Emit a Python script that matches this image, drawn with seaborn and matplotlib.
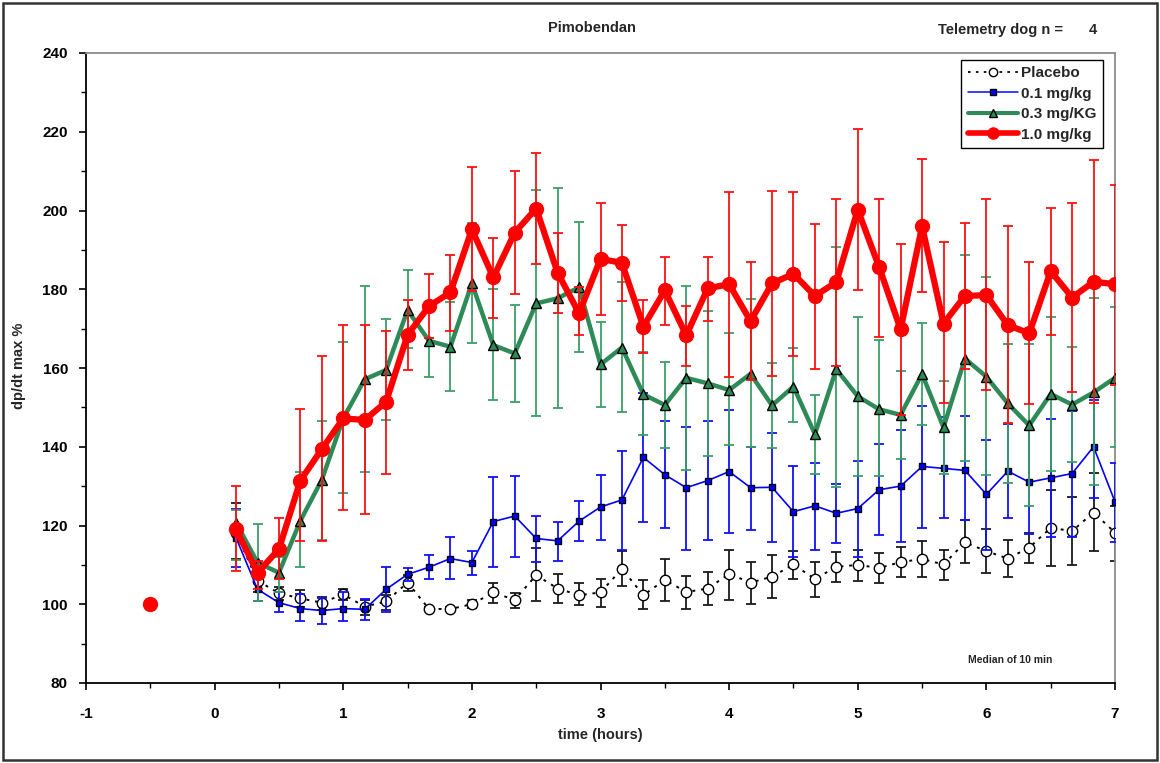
import numpy as np
import pandas as pd
import matplotlib
matplotlib.use("Agg")
import matplotlib.pyplot as plt
from matplotlib.lines import Line2D
from matplotlib.patches import Rectangle
from matplotlib.ticker import MultipleLocator
import seaborn as sns

# ---------------- data ----------------
minutes = np.arange(10, 430, 10)          # sampling every 10 min, 0:10 .. 7:00
baseline_time = -0.5
baseline_value = 100

placebo = [118, 106, 102.8, 101.5, 100.4, 102.5, 99.4, 100.7, 105.5, 98.8, 98.8, 100, 103, 101.1,
           107.4, 104, 102.3, 103, 109, 102.3, 106.2, 103.1, 104, 107.7, 105.5, 107, 110.1, 106.4,
           109.5, 110, 109.2, 110.7, 111.5, 110.1, 115.7, 113.5, 111.6, 114.4, 119.4, 118.6, 123.3, 118.2]
placebo_hi = [125.8, 110, 104.5, 103.6, 101.8, 103.8, 101.1, 102.3, 107.4, 99.4, 99.3, 101, 105.5, 102.8,
              114.2, 107.8, 105.3, 106.4, 113.4, 106.2, 111.4, 107.2, 108.1, 113.9, 110.8, 112.5, 113.6, 110.8,
              113.2, 113.9, 112.9, 114.6, 116, 113.8, 121.4, 119, 116.4, 118.2, 129, 127.3, 133.4, 125]
placebo_lo = [111.5, 103, 101, 99.4, 98.5, 101.1, 97.3, 98.5, 103.4, 98.2, 98.3, 99, 100.4, 99.1,
              100.7, 100.4, 99.7, 99.4, 104.6, 98.7, 100.8, 98.9, 99.8, 101.2, 100.1, 101.5, 106.3, 101.8,
              105.7, 105.9, 105.5, 106.8, 107, 106.2, 110.4, 108, 106.8, 110.4, 109.7, 110, 113.4, 111.1]

dose01 = [116.9, 103.8, 100.4, 98.9, 98.4, 98.9, 98.7, 103.8, 107.6, 109.4, 111.6, 110.6, 121, 122.4,
          116.7, 116.1, 121.1, 124.7, 126.5, 137.3, 132.9, 129.6, 131.4, 133.7, 129.6, 129.7, 123.5, 125,
          123.1, 124.3, 129.1, 130, 135, 134.5, 134, 127.9, 133.8, 131, 132.1, 133.2, 140, 126]
dose01_hi = [124.1, 107, 103, 102.5, 101.5, 103, 101.3, 109.5, 109.1, 112.5, 117, 113.5, 132.4, 132.6,
             122.5, 121, 126.2, 132.8, 138.9, 153.7, 146.5, 145.1, 146.5, 149.3, 140, 143.6, 135, 136,
             130.5, 136.4, 140.7, 144.3, 150.3, 147.6, 147.8, 141.7, 145.8, 144.3, 147, 149.1, 152, 136]
dose01_lo = [109.5, 100.8, 98.1, 95.8, 95.1, 95.8, 96.1, 98.1, 105.9, 106.3, 106.3, 107.4, 109.4, 112.1,
             110.8, 111.1, 116.1, 116.4, 113.9, 121, 119.4, 113.9, 116.3, 118, 118.9, 115.7, 111.9, 113.9,
             115.6, 112.1, 117.7, 115.9, 119.4, 121.8, 121.4, 113.8, 122, 117.8, 117, 117.2, 127, 115.9]

dose03 = [120.7, 110.6, 108, 121.2, 131.6, 147.2, 157.1, 159.5, 174.7, 166.9, 165.4, 181.5, 165.8, 163.7,
          176.4, 177.7, 180.5, 160.9, 165.2, 153.3, 150.6, 157.5, 156.1, 154.4, 158.5, 150.5, 155.3, 143.2,
          159.7, 152.8, 149.5, 148.1, 158.5, 144.9, 162.4, 157.8, 151, 145.4, 153.4, 150.7, 153.8, 157.5]
dose03_hi = [124, 120.4, 112, 133.5, 146.6, 166.7, 180.8, 172.4, 184.9, 167.5, 176.8, 196.9, 180, 176.1,
             205.3, 205.6, 197.1, 171.6, 181.9, 164, 161.4, 180.8, 174.6, 168.8, 177.4, 161.3, 165, 153.1,
             190.7, 173, 167.1, 159.3, 171.5, 156.8, 188.7, 183.2, 166, 166, 173, 165.4, 177.9, 175.4]
dose03_lo = [111.2, 100.8, 103, 109.5, 116.4, 128.2, 133.7, 146.8, 165, 157.8, 154.2, 166.4, 152, 151.4,
             147.9, 149.9, 164.1, 150.2, 148.9, 143, 139.8, 134.1, 137.7, 140.4, 140, 139.8, 146.2, 133.2,
             129.8, 132.5, 132.5, 136.8, 145.5, 133.2, 136.3, 132.8, 130.7, 125, 133.9, 136.2, 130.3, 140]

dose10 = [119, 108, 114, 131.4, 139.4, 147.2, 146.8, 151.4, 168.4, 175.7, 179.2, 195.2, 183, 194.4,
          200.5, 184.2, 173.9, 187.7, 186.7, 170.5, 179.7, 168.3, 180.2, 181.3, 171.9, 181.5, 183.9, 178.3,
          181.8, 200.2, 185.6, 169.8, 196, 171.3, 178.3, 178.5, 170.9, 168.8, 184.6, 177.9, 181.9, 181.3]
dose10_hi = [130, 111, 122, 149.5, 163, 171, 171, 169.5, 177.3, 183.9, 188.8, 211, 193.1, 210,
             214.5, 194.2, 180.5, 201.8, 196.3, 177.3, 188.3, 175.7, 188.3, 204.6, 187, 205, 204.8, 196.6,
             202.8, 220.8, 202.9, 191.5, 213, 191.9, 196.7, 202.8, 196, 187, 200.7, 201.8, 212.7, 206.6]
dose10_lo = [108.4, 104, 106.4, 116, 116, 124, 123, 133, 159.5, 167.7, 169.5, 179.6, 172.8, 178.9,
             186.4, 174, 168.5, 173.5, 177.1, 163.7, 170.9, 160.5, 172, 157.8, 157, 158, 163, 159.7,
             160.5, 179.8, 168, 148, 179.4, 151, 159.7, 154.4, 146, 150.8, 168.4, 153.8, 151.2, 155.7]

labels = ["Placebo", "0.1 mg/kg", "0.3 mg/KG", "1.0 mg/kg"]
x_ticks = [-1, 0, 1, 2, 3, 4, 5, 6, 7]
y_ticks = [80, 100, 120, 140, 160, 180, 200, 220, 240]

# ---------------- style ----------------
sns.set_theme(style="white")
FONT = ["Liberation Sans", "DejaVu Sans"]
plt.rcParams["font.family"] = FONT
plt.rcParams["font.weight"] = "bold"
plt.rcParams["axes.unicode_minus"] = False

t = minutes / 60.0
df = pd.DataFrame({"time": t, "Placebo": placebo, "0.1 mg/kg": dose01,
                   "0.3 mg/KG": dose03, "1.0 mg/kg": dose10})

fig = plt.figure(figsize=(11.6, 7.63), dpi=100)
ax = fig.add_axes([86 / 1160, 1 - 683 / 763, (1115 - 86) / 1160, (683 - 53) / 763])

specs = [
    dict(name="Placebo", hi=placebo_hi, lo=placebo_lo, color="black", ecolor="#1a1a1a",
         lw=1.4, ls=(0, (1.5, 3)), marker="o", ms=7.5, mfc="white", mec="black", mew=1.0),
    dict(name="0.1 mg/kg", hi=dose01_hi, lo=dose01_lo, color="#0000FF", ecolor="#1010FF",
         lw=1.2, ls="-", marker="s", ms=5, mfc="#0000FF", mec="black", mew=1.0),
    dict(name="0.3 mg/KG", hi=dose03_hi, lo=dose03_lo, color="#2E8B57", ecolor="#3C9E68",
         lw=3.2, ls="-", marker="^", ms=7.5, mfc="#2E8B57", mec="black", mew=1.0),
    dict(name="1.0 mg/kg", hi=dose10_hi, lo=dose10_lo, color="#FF0000", ecolor="#FF1010",
         lw=4.5, ls="-", marker="o", ms=10, mfc="#FF0000", mec="#FF0000", mew=1.0),
]

handles = []
for i, s in enumerate(specs):
    y = np.asarray(df[s["name"]])
    z = 2 + i * 2
    ax.errorbar(t, y, yerr=[y - np.asarray(s["lo"]), np.asarray(s["hi"]) - y], fmt="none",
                ecolor=s["ecolor"], elinewidth=1.3, capsize=3.6, capthick=1.3, zorder=z)
    sns.lineplot(data=df, x="time", y=s["name"], ax=ax, color=s["color"], linewidth=s["lw"],
                 linestyle=s["ls"], marker=s["marker"], markersize=s["ms"],
                 markerfacecolor=s["mfc"], markeredgecolor=s["mec"], markeredgewidth=s["mew"],
                 legend=False, zorder=z + 1, estimator=None, sort=False)
    ax.plot([baseline_time], [baseline_value], linestyle="none", marker=s["marker"],
            markersize=s["ms"], markerfacecolor=s["mfc"], markeredgecolor=s["mec"],
            markeredgewidth=s["mew"], zorder=z + 1)
    handles.append(Line2D([0], [0], color=s["color"], lw=s["lw"] * 0.9, linestyle=s["ls"],
                          marker=s["marker"], markersize=s["ms"] * 0.8, markerfacecolor=s["mfc"],
                          markeredgecolor=s["mec"], markeredgewidth=s["mew"]))

# axes
ax.set_xlim(-1, 7)
ax.set_ylim(80, 240)
ax.set_xticks(x_ticks)
ax.set_yticks(y_ticks)
ax.xaxis.set_minor_locator(MultipleLocator(0.5))
ax.yaxis.set_minor_locator(MultipleLocator(10))
ax.tick_params(axis="both", which="major", direction="out", length=5, width=1.2,
               colors="black", labelsize=11, pad=8, bottom=True, left=True)
ax.tick_params(axis="both", which="minor", direction="out", length=3.5, width=1.0,
               colors="black", bottom=True, left=True)
ax.tick_params(axis="x", which="major", pad=12)
for lab in ax.get_xticklabels() + ax.get_yticklabels():
    lab.set_fontweight("bold")
    lab.set_family(FONT)

ax.spines["left"].set_color("black")
ax.spines["bottom"].set_color("black")
ax.spines["left"].set_linewidth(1.3)
ax.spines["bottom"].set_linewidth(1.3)
ax.spines["top"].set_color("#8c8c8c")
ax.spines["right"].set_color("#8c8c8c")
ax.spines["top"].set_linewidth(1.3)
ax.spines["right"].set_linewidth(1.3)
ax.grid(False)
ax.set_xlabel("")
ax.set_ylabel("")

# legend
leg = ax.legend(handles, labels, loc="upper right", bbox_to_anchor=(0.9885, 0.989),
                frameon=True, fancybox=False, edgecolor="black", framealpha=1,
                prop={"family": FONT, "weight": "bold", "size": 11},
                handlelength=3.3, handletextpad=0.2, borderpad=0.42, labelspacing=0.42,
                borderaxespad=0)
leg.get_frame().set_linewidth(1.0)
leg.set_zorder(20)

# texts
fig.text(0.0165, 0.52, "dp/dt max %", rotation=90, ha="center", va="center",
         fontsize=10.5, fontweight="bold", family=FONT)
fig.text(600 / 1160, 1 - 735 / 763, "time (hours)", ha="center", va="center",
         fontsize=10.5, fontweight="bold", family=FONT)
fig.text(592 / 1160, 1 - 28 / 763, "Pimobendan", ha="center", va="center",
         fontsize=10.5, fontweight="bold", family=FONT)
fig.text(1001 / 1160, 1 - 30 / 763, "Telemetry dog n =", ha="center", va="center",
         fontsize=10.5, fontweight="bold", family=FONT)
fig.text(1093 / 1160, 1 - 30 / 763, "4", ha="center", va="center",
         fontsize=10.5, fontweight="bold", family=FONT)
fig.text(1010 / 1160, 1 - 660 / 763, "Median of 10 min", ha="center", va="center",
         fontsize=7.5, fontweight="bold", family=FONT)

# outer frame
fig.patches.append(Rectangle((0.003, 0.004), 0.994, 0.992, transform=fig.transFigure,
                             fill=False, edgecolor="#333333", linewidth=1.8))

fig.savefig("out.png", dpi=100, facecolor="white")
